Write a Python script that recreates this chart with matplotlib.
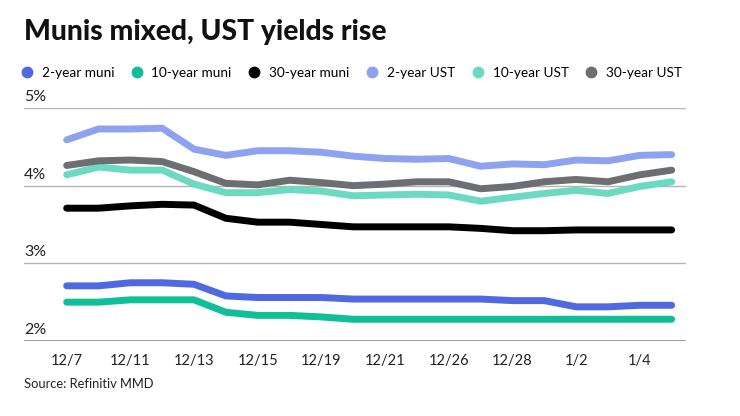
import matplotlib
matplotlib.use("Agg")
import matplotlib.pyplot as plt
from matplotlib.lines import Line2D

dates = ["12/7", "12/8", "12/11", "12/12", "12/13", "12/14", "12/15", "12/18", "12/19", "12/20",
         "12/21", "12/22", "12/26", "12/27", "12/28", "12/29", "1/2", "1/3", "1/4", "1/5"]
tick_labels = ["12/7", "12/11", "12/13", "12/15", "12/19", "12/21", "12/26", "12/28", "1/2", "1/4"]

muni_2y = [2.71, 2.71, 2.75, 2.75, 2.73, 2.58, 2.56, 2.56, 2.56, 2.54,
           2.54, 2.54, 2.54, 2.54, 2.52, 2.52, 2.44, 2.44, 2.46, 2.46]
muni_10y = [2.50, 2.50, 2.53, 2.53, 2.53, 2.37, 2.33, 2.33, 2.31, 2.28,
            2.28, 2.28, 2.28, 2.28, 2.28, 2.28, 2.28, 2.28, 2.28, 2.28]
muni_30y = [3.71, 3.71, 3.74, 3.76, 3.75, 3.58, 3.53, 3.53, 3.50, 3.47,
            3.47, 3.47, 3.47, 3.45, 3.42, 3.42, 3.43, 3.43, 3.43, 3.43]
ust_2y = [4.59, 4.73, 4.73, 4.74, 4.47, 4.39, 4.45, 4.45, 4.43, 4.38,
          4.35, 4.34, 4.35, 4.25, 4.28, 4.27, 4.33, 4.32, 4.39, 4.40]
ust_10y = [4.14, 4.24, 4.20, 4.20, 4.02, 3.91, 3.91, 3.95, 3.93, 3.87,
           3.88, 3.89, 3.88, 3.80, 3.85, 3.90, 3.94, 3.90, 3.99, 4.05]
ust_30y = [4.26, 4.32, 4.33, 4.31, 4.18, 4.03, 4.01, 4.07, 4.04, 4.00,
           4.02, 4.05, 4.05, 3.96, 3.99, 4.05, 4.08, 4.05, 4.14, 4.20]

series = [
    ("2-year muni", muni_2y, "#4f6ae0"),
    ("10-year muni", muni_10y, "#10bf98"),
    ("30-year muni", muni_30y, "#000000"),
    ("2-year UST", ust_2y, "#8fa2ef"),
    ("10-year UST", ust_10y, "#6cd9c2"),
    ("30-year UST", ust_30y, "#6d6e72"),
]

plt.rcParams["font.family"] = ["Lato", "DejaVu Sans"]

fig = plt.figure(figsize=(7.4, 4.16), dpi=100)
ax = fig.add_axes([24 / 740, (416 - 341) / 416, 662 / 740, (341 - 108) / 416])

x = list(range(len(dates)))
for name, vals, col in series:
    ax.plot(x, vals, color=col, lw=5.0, solid_capstyle="round", solid_joinstyle="round", zorder=3)

ax.set_ylim(2, 5)
ax.set_xlim(-1.34, 19.45)
for v in [3, 4, 5]:
    ax.axhline(v, color="#b5b5b5", lw=1.0, zorder=1)
ax.axhline(2, color="#8a8a8a", lw=1.2, zorder=1)
for s in ax.spines.values():
    s.set_visible(False)
ax.set_yticks([])
for v in [2, 3, 4, 5]:
    ax.text(-1.34, v + 0.05, f"{v}%", fontsize=11.5, color="#222222", ha="left", va="bottom")

tick_pos = [dates.index(t) for t in tick_labels]
ax.set_xticks(tick_pos)
ax.set_xticklabels(tick_labels, fontsize=10.5, color="#222222")
ax.tick_params(axis="x", length=0, pad=9)

fig.text(24 / 740, 1 - 32 / 416, "Munis mixed, UST yields rise", fontsize=20.3, fontweight="black",
         ha="left", va="center", color="#111111")
fig.text(24 / 740, 1 - 384 / 416, "Source: Refinitiv MMD", fontsize=9.3, ha="left", va="center",
         color="#222222")

handles = [Line2D([0], [0], marker="o", color="none", markerfacecolor=c, markeredgecolor=c,
                  markersize=7.5, label=n) for n, _, c in series]
fig.legend(handles=handles, loc="center left", bbox_to_anchor=(22.5 / 740, 1 - 73 / 416), ncol=6,
           frameon=False, fontsize=9.8, handlelength=0.6, handletextpad=0.8, columnspacing=1.35,
           borderaxespad=0, borderpad=0)

fig.savefig("out.png", dpi=100)
